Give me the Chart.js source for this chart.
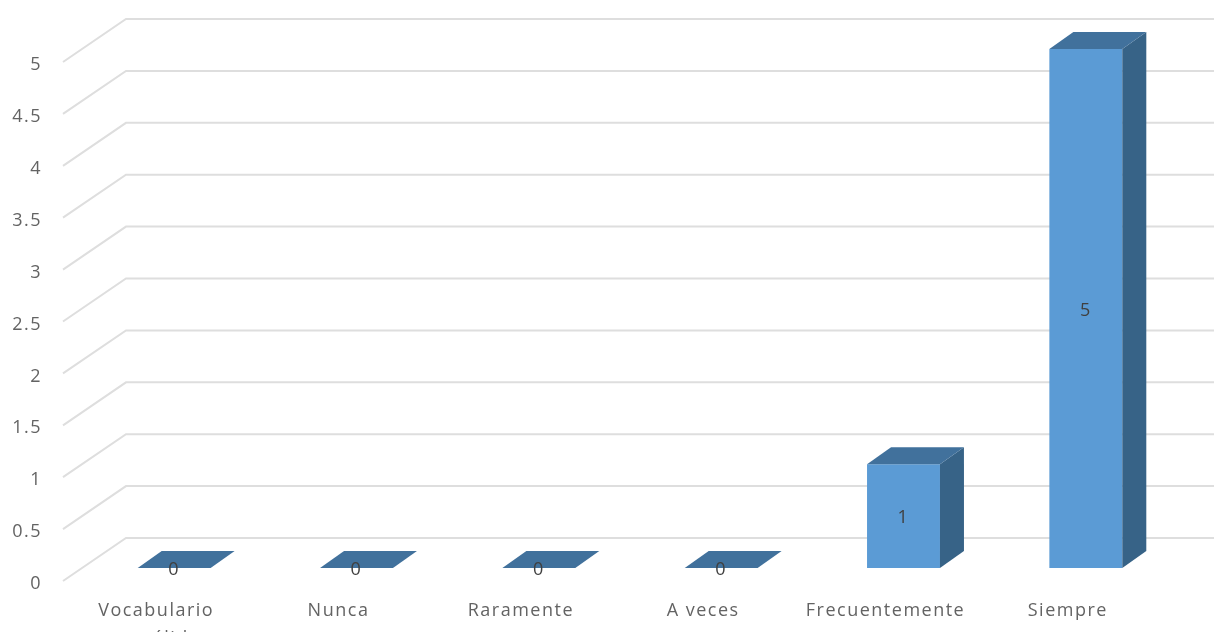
<!DOCTYPE html>
<html><head><meta charset="utf-8">
<style>html,body{margin:0;padding:0;background:#fff;overflow:hidden}canvas{display:block;filter:blur(0.6px)}</style>
<script src="https://cdn.jsdelivr.net/npm/chart.js@4"></script></head>
<body><canvas id="c" width="1214" height="632" style="width:1214px;height:632px"></canvas>
<script>
const categories=[["Vocabulario","no válido"],"Nunca","Raramente","A veces","Frecuentemente","Siempre"];
const values=[0,0,0,0,1,5];
const yTicks=[0,0.5,1,1.5,2,2.5,3,3.5,4,4.5,5];
const FRONT='#5B9BD5',TOP='#41719C',SIDE='#376387',GRID='#DEDEDE',TXT='#636363';
const floorDepth=[63,-43],barOffset=[18,-13],barDepth=[24,-17];
const threeD={id:'threeD',
 beforeDraw(ch){ch.ctx.letterSpacing='1.5px';
  const y=ch.scales.y;
  if(!y._shifted){y._shifted=true;const o=y.drawLabels;y.drawLabels=function(a){ch.ctx.save();ch.ctx.translate(0,3);o.call(this,a);ch.ctx.restore();};}
 },
 beforeDatasetsDraw(ch){const{ctx,chartArea:a,scales:{y}}=ch;ctx.save();ctx.strokeStyle=GRID;ctx.lineWidth=2;
  yTicks.forEach(v=>{const p=y.getPixelForValue(v);const bx=a.left-2+floorDepth[0],by=p+floorDepth[1];
   ctx.beginPath();ctx.moveTo(a.left-2,p);ctx.lineTo(bx,by);ctx.lineTo(1214,by);ctx.stroke();});ctx.restore();},
 beforeDatasetDraw(ch){ch.ctx.save();ch.ctx.translate(barOffset[0],barOffset[1]);},
 afterDatasetDraw(ch,args){const ctx=ch.ctx;const[dx,dy]=barDepth;
  ch.getDatasetMeta(args.index).data.forEach(b=>{const l=b.x-b.width/2,r=b.x+b.width/2,t=b.y,bt=b.base;
   ctx.fillStyle=SIDE;ctx.beginPath();ctx.moveTo(r,t);ctx.lineTo(r+dx,t+dy);ctx.lineTo(r+dx,bt+dy);ctx.lineTo(r,bt);ctx.closePath();ctx.fill();
   ctx.fillStyle=TOP;ctx.beginPath();ctx.moveTo(l,t);ctx.lineTo(l+dx,t+dy);ctx.lineTo(r+dx,t+dy);ctx.lineTo(r,t);ctx.closePath();ctx.fill();});
  ctx.fillStyle='#404040';ctx.font='18px "Open Sans"';ctx.textAlign='center';ctx.textBaseline='middle';
  ch.getDatasetMeta(args.index).data.forEach((b,i)=>{ctx.fillText(String(values[i]),b.x,(b.y+b.base)/2+2);});
  ctx.restore();}
};
new Chart(document.getElementById('c'),{type:'bar',
 data:{labels:categories,datasets:[{data:values,backgroundColor:FRONT,barPercentage:1,categoryPercentage:0.4}]},
 options:{responsive:false,animation:false,
  layout:{padding:{top:62,right:55,left:0,bottom:0}},
  plugins:{legend:{display:false},tooltip:{enabled:false}},
  scales:{
   x:{grid:{display:false},border:{display:false},afterFit(s){s.height=51;},
    ticks:{autoSkip:false,maxRotation:0,minRotation:0,color:TXT,padding:7,font:{family:'"Open Sans"',size:18,lineHeight:1.6}}},
   y:{min:0,max:5,grid:{display:false},border:{display:false},afterFit(s){s.width=65;},
    afterBuildTicks(s){s.ticks=yTicks.map(v=>({value:v}));},
    ticks:{color:TXT,padding:15,callback:v=>String(v),font:{family:'"Open Sans"',size:18}}}
  }},
 plugins:[threeD]});
</script></body></html>
